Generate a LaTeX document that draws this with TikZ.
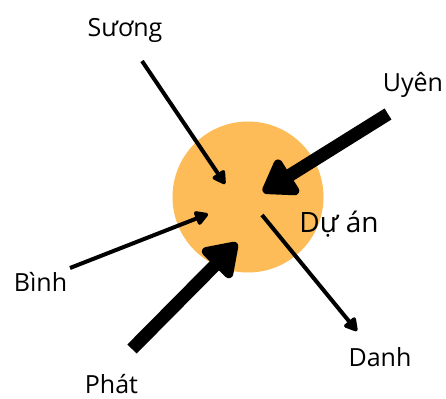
\documentclass[tikz,border=0pt]{standalone}
\usepackage{fontspec}
\setmainfont{Open Sans}
\usetikzlibrary{arrows.meta}
\definecolor{duan}{RGB}{254,188,88}
\begin{document}
\begin{tikzpicture}[x=1pt,y=-1pt,
person/.style={font=\fontsize{25}{30}\selectfont,inner sep=0pt,anchor=base},
flowthin/.style={line width=4pt,-{Triangle[length=15pt,width=16pt,round]}},
flowthick/.style={line width=13pt,-{Triangle[length=36pt,width=46pt,round]}}]
\useasboundingbox (0,0) rectangle (446,398);
\node[circle,fill=duan,minimum size=151pt,inner sep=0pt] (proj) at (248,197) {};
\node[person,font=\fontsize{28}{33}\selectfont] (duan) at (339,232) {Dự án};
% names round the project
\node[person] (suong) at (125,37) {Sương};
\node[person] (uyen) at (413,92) {Uyên};
\node[person] (binh) at (40.5,291) {Bình};
\node[person] (phat) at (111.5,393.5) {Phát};
\node[person] (danh) at (380,366) {Danh};
% ends of the arrows
\coordinate (s1) at (142,61);   \coordinate (s2) at (225,184);
\coordinate (u1) at (388,114);  \coordinate (u2) at (263,192);
\coordinate (b1) at (70,268);   \coordinate (b2) at (208,214);
\coordinate (p1) at (132,349);  \coordinate (p2) at (237,243);
\coordinate (d1) at (262,215);  \coordinate (d2) at (357,331);
\draw[flowthin] (s1) -- (s2);
\draw[flowthin] (b1) -- (b2);
\draw[flowthin] (d1) -- (d2);
\draw[flowthick] (u1) -- (u2);
\draw[flowthick] (p1) -- (p2);
\end{tikzpicture}
\end{document}
